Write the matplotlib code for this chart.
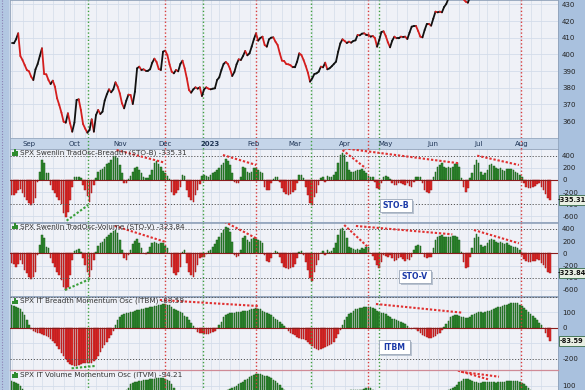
import numpy as np
import pandas as pd
import matplotlib
matplotlib.use("Agg")
import matplotlib.pyplot as plt
from matplotlib.collections import LineCollection
from matplotlib.patches import Rectangle
from matplotlib.lines import Line2D

# ---------------- data ----------------
holidays = ["2022-09-05", "2022-11-24", "2022-12-26", "2023-01-02", "2023-01-16",
            "2023-02-20", "2023-04-07", "2023-05-29", "2023-06-19", "2023-07-04"]
dates = pd.bdate_range("2022-08-22", "2023-08-18")
dates = dates[~dates.isin(pd.to_datetime(holidays))]
pos = np.arange(len(dates)) - 8          # 0 = 1 Sep 2022

price = [
    406.6, 406.6, 409.0, 412.6, 399.0, 396.6, 393.6, 390.6,
    389.8, 386.6, 384.6, 391.0, 394.2, 399.0, 403.6, 388.2, 388.0, 384.6,
    382.2, 384.2, 380.6, 373.6, 369.6, 365.0, 359.6, 359.0, 364.6, 358.6,
    353.6, 359.0, 372.6, 373.0, 366.6, 358.2, 355.4, 353.0, 354.6, 361.0,
    353.6, 363.6, 366.6, 364.2, 365.6, 372.2, 376.0, 379.0, 377.2, 379.0,
    383.2, 380.6, 376.6, 370.6, 367.6, 372.2, 375.8, 375.6, 370.2, 377.6,
    391.6, 392.6, 390.6, 391.0, 390.2, 390.2, 391.0, 395.0, 397.4, 395.4,
    391.2, 390.6, 401.6, 402.2, 399.6, 394.0, 389.6, 388.6, 390.6, 389.8,
    394.2, 396.2, 391.6, 385.6, 378.6, 377.0, 379.0, 380.2, 379.4, 380.2,
    375.0, 379.0, 380.2, 379.4, 379.0, 379.4, 379.6, 384.6, 386.2, 390.6,
    394.2, 395.4, 394.2, 391.2, 387.0, 389.4, 394.0, 397.0, 396.6, 399.0,
    402.0, 399.4, 400.6, 404.6, 409.0, 412.6, 408.2, 409.8, 410.6, 405.6,
    404.6, 409.0, 410.0, 410.2, 407.6, 405.6, 400.6, 396.2, 396.0, 394.2,
    394.0, 393.4, 392.2, 392.2, 395.6, 400.6, 399.6, 396.6, 393.0, 389.0,
    383.6, 385.6, 388.2, 388.6, 389.6, 392.6, 392.2, 395.0, 391.0, 391.6,
    392.8, 394.2, 395.6, 401.6, 406.6, 409.0, 408.0, 406.8, 407.6, 407.0,
    408.0, 408.4, 411.6, 411.4, 412.4, 412.6, 411.8, 411.8, 410.6, 411.0,
    409.8, 404.6, 408.6, 413.4, 413.8, 411.0, 407.2, 404.2, 408.2, 410.6,
    409.6, 409.6, 410.6, 410.4, 410.6, 409.2, 413.0, 416.6, 417.0, 417.0,
    414.0, 410.6, 410.2, 414.6, 418.2, 418.2, 417.2, 421.4, 425.6, 425.2,
    425.6, 425.2, 428.4, 430.2, 433.5, 436.5, 441.0, 438.5, 437.0, 435.5,
    435.0, 433.0, 431.6, 431.0, 434.5, 437.0, 440.0, 443.0, 443.5, 443.0,
    440.0, 439.0, 438.5, 443.0, 445.5, 447.5, 448.5, 449.0, 451.5, 453.0,
    454.5, 452.0, 454.5, 452.0, 455.5, 455.0, 457.0, 456.0, 450.0, 449.0,
    448.0, 446.0, 450.0, 447.5, 446.0, 445.0, 448.0, 442.0, 439.5, 436.5,
    436.0, 437.0,
]

sto_b = [
    -247, -247, -219, -164, -153, -219, -285, -329,
    -384, -411, -384, -301, -27, 137, 329, 274, 110, 110,
    -82, -164, -219, -285, -329, -395, -548, -603, -520, -329,
    -110, 44, 44, 44, 27, -82, -164, -263, -356, -219,
    -82, 27, 137, 164, 175, 219, 263, 285, 329, 395,
    395, 356, 247, 110, -44, -55, 11, 66, 137, 192,
    219, 164, 110, 55, 27, 27, 82, 164, 274, 318,
    263, 219, 153, 110, 66, 11, -192, -247, -219, -164,
    -110, 82, 66, -164, -274, -329, -356, -250, -160, -60,
    66, 82, 66, 55, 82, 110, 137, 164, 192, 247,
    285, 340, 318, 247, 110, -27, -55, -44, 44, 208,
    192, 137, 121, 137, 192, 192, 164, 137, 110, -110,
    -164, -164, -55, 11, 55, 44, -27, -137, -192, -230,
    -247, -230, -192, -164, -55, 82, 82, 27, -110, -247,
    -384, -411, -274, -219, -82, 27, 55, -27, 66, 44,
    55, 82, 137, 274, 411, 449, 411, 301, 164, 137,
    137, 153, 164, 164, 175, 153, 110, 66, 44, 44,
    -27, -137, -153, -55, 44, 66, 55, 11, -55, -82,
    -82, -55, -55, -66, -82, -55, -99, -110, -27, 44,
    55, 55, -55, -164, -192, -208, -164, 55, 137, 219,
    247, 274, 219, 192, 208, 192, 219, 263, 274, 219,
    27, -110, -192, -137, 27, 110, 247, 329, 285, 137,
    82, 110, 164, 247, 263, 230, 192, 175, 192, 164,
    153, 175, 186, 175, 164, 137, 110, 82, 44, -55,
    -110, -137, -137, -121, -99, -66, -55, -110, -164, -230,
    -301, -335.31,
]

sto_v = [
    -164, -175, -218, -175, -109, -175, -273, -328,
    -382, -426, -382, -300, -27, 137, 300, 246, 109, 82,
    -82, -164, -218, -300, -355, -437, -546, -601, -546, -355,
    -109, 38, 55, 66, 27, -82, -191, -300, -382, -273,
    -109, 27, 120, 164, 191, 229, 273, 300, 339, 371,
    382, 339, 218, 55, -82, -109, -27, 55, 153, 207,
    229, 164, 82, 11, -11, 27, 109, 164, 191, 175,
    153, 164, 175, 120, 82, 11, -218, -328, -355, -300,
    -218, 27, 55, -164, -300, -355, -382, -300, -191, -82,
    -66, -55, -11, 44, 55, 98, 153, 218, 273, 328,
    382, 426, 410, 355, 191, -27, -66, -44, 55, 246,
    284, 218, 191, 229, 246, 229, 218, 207, 164, -27,
    -120, -137, -82, 11, 38, 27, -55, -164, -218, -246,
    -262, -246, -218, -175, -82, 27, 44, -27, -137, -273,
    -410, -448, -300, -191, -109, 11, 44, -27, 55, 27,
    38, 82, 164, 300, 393, 410, 371, 246, 109, 82,
    66, 55, 66, 55, 82, 66, 98, 109, 11, -44,
    -109, -191, -246, -137, -27, -44, -55, -27, -82, -120,
    -109, -82, -66, -98, -120, -98, -109, -55, 55, 120,
    137, 120, 11, -55, -82, -66, -55, 82, 218, 273,
    284, 300, 273, 262, 273, 262, 284, 284, 273, 218,
    27, -137, -246, -218, -55, 82, 246, 311, 273, 137,
    98, 120, 164, 218, 229, 218, 191, 175, 191, 164,
    153, 164, 137, 120, 109, 98, 82, 55, -27, -98,
    -120, -137, -137, -120, -131, -98, -109, -153, -191, -246,
    -300, -323.84,
]

itbm = [
    146, 140, 135, 129, 123, 103, 82, 49,
    17, -11, -19, -26, -32, -37, -41, -47, -54, -62,
    -71, -84, -101, -118, -140, -161, -183, -204, -221, -234,
    -243, -247, -247, -241, -234, -230, -230, -226, -230, -226,
    -217, -204, -183, -157, -133, -112, -90, -69, -47, -19,
    17, 49, 71, 82, 88, 92, 97, 101, 103, 110,
    114, 114, 118, 123, 125, 127, 131, 135, 140, 140,
    144, 148, 153, 153, 148, 144, 131, 123, 114, 105,
    101, 92, 75, 67, 49, 32, 11, -11, -26, -37,
    -37, -41, -41, -41, -37, -28, -19, -4, 17, 39,
    67, 82, 88, 92, 92, 97, 101, 103, 103, 105,
    110, 110, 114, 118, 123, 125, 123, 118, 110, 103,
    97, 88, 80, 71, 58, 49, 37, 24, 11, -4,
    -19, -32, -43, -49, -58, -67, -71, -75, -80, -92,
    -105, -118, -131, -138, -144, -140, -133, -127, -118, -112,
    -105, -90, -69, -41, -15, 17, 49, 71, 88, 97,
    110, 118, 123, 125, 127, 131, 135, 135, 131, 127,
    118, 110, 101, 97, 92, 86, 75, 67, 58, 54,
    49, 45, 39, 32, 24, 11, -2, -6, -4, -11,
    -19, -32, -45, -54, -62, -69, -69, -62, -54, -41,
    -32, -15, 2, 24, 45, 67, 75, 82, 80, 75,
    71, 67, 62, 62, 71, 82, 88, 97, 103, 101,
    97, 99, 105, 110, 114, 123, 127, 131, 135, 140,
    144, 148, 153, 157, 161, 161, 157, 148, 140, 127,
    114, 101, 88, 75, 62, 49, 32, 15, -4, -37,
    -62, -83.59,
]

itvm = [
    130, 126, 120, 110, 98, 82, 62, 42,
    22, 2, -15, -28, -40, -50, -60, -70, -80, -92,
    -105, -120, -135, -150, -165, -180, -195, -210, -225, -235,
    -240, -242, -240, -236, -232, -228, -225, -222, -218, -212,
    -204, -192, -176, -158, -138, -116, -92, -68, -44, -20,
    4, 25, 42, 55, 66, 76, 90, 110, 120, 125,
    128, 130, 132, 135, 138, 140, 142, 145, 145, 148,
    150, 150, 148, 145, 140, 130, 110, 85, 62, 45,
    32, 24, 14, 4, -8, -20, -30, -38, -44, -46,
    -44, -40, -34, -26, -16, -6, 6, 18, 30, 42,
    54, 64, 76, 82, 86, 92, 102, 112, 120, 128,
    136, 146, 155, 162, 168, 172, 175, 175, 170, 165,
    160, 155, 150, 140, 130, 118, 104, 90, 76, 62,
    46, 30, 14, -2, -18, -32, -44, -54, -64, -76,
    -90, -102, -112, -118, -120, -116, -108, -96, -82, -66,
    -48, -28, -8, 12, 30, 46, 58, 66, 70, 72,
    72, 73, 74, 75, 76, 80, 86, 88, 85, 78,
    66, 52, 40, 30, 22, 16, 10, 4, -2, -8,
    -14, -20, -26, -32, -38, -46, -54, -62, -70, -76,
    -80, -82, -80, -76, -70, -60, -48, -34, -18, -2,
    14, 30, 46, 60, 72, 80, 88, 94, 104, 122,
    132, 142, 146, 142, 136, 130, 126, 122, 119, 120,
    122, 125, 126, 125, 124, 122, 120, 122, 124, 126,
    128, 130, 131, 132, 133, 132, 130, 128, 120, 110,
    100, 90, 76, 62, 48, 34, 20, 4, -16, -40,
    -66, -94.21,
]

month_labels = ["Sep", "Oct", "Nov", "Dec", "2023", "Feb", "Mar", "Apr", "May", "Jun", "Jul", "Aug"]
green_signals = [27.4, 80.4, 130.6, 161.7]
red_signals = [62.8, 104.8, 156.6, 227.5]

# annotation trend lines: (x0, y0, x1, y1, colour)
sto_b_lines = [(17.4, -669, 27.4, -411, "g"), (40.5, 493, 62.8, 285, "r"),
               (89.7, 411, 105.1, 247, "r"), (145.0, 493, 155.8, 192, "r"),
               (145.8, 521, 198.9, 275, "r"), (207.3, 400, 226.6, 247, "r")]
sto_v_lines = [(16.6, -602, 28.9, -410, "g"), (39.7, 448, 62.8, 190, "r"),
               (90.4, 518, 105.1, 246, "r"), (145.8, 464, 156.6, 108, "r"),
               (151.2, 448, 195.8, 311, "r"), (205.8, 382, 226.6, 164, "r")]
itbm_lines = [(19.7, -262, 30.5, -247, "g"), (60.5, 179, 105.8, 140, "r"),
              (160.5, 153, 200.4, 97, "r")]
itvm_lines = [(198.4, 196, 212.3, 142, "r"), (199.8, 189, 217.4, 158, "r")]

# ---------------- layout ----------------
W, H = 585, 390
fig = plt.figure(figsize=(W / 100, H / 100), dpi=100)
fig.patch.set_facecolor("#c5d5e9")

PX_PER_DAY = 2.162
X0_PX = 29.0          # pixel of index 0
XL = 10.0
XR = 558.0
xlim = ((XL - X0_PX) / PX_PER_DAY, (XR - X0_PX) / PX_PER_DAY)

BG = "#eff1f7"
GRID = "#d3dcea"
GREEN = "#2f8c2f"
GREEN_E = "#1b5a1b"
RED = "#e22a2a"
RED_E = "#a01616"
SIG_G = "#3f9f3f"
SIG_R = "#d83c3c"


def px_axes(y0, y1):
    return fig.add_axes([XL / W, 1 - y1 / H, (XR - XL) / W, (y1 - y0) / H])


# background strips (right axis area, left strip)
fig.add_artist(Rectangle((XR / W, 0), 1 - XR / W, 1, transform=fig.transFigure,
                         facecolor="#a9c1de", edgecolor="none", zorder=-5))
fig.add_artist(Rectangle((0, 0), 8.5 / W, 1, transform=fig.transFigure,
                         facecolor="#b2c7e2", edgecolor="none", zorder=-5))
fig.add_artist(Line2D([2 / W, 2 / W], [0, 1], transform=fig.transFigure,
                      color="#8a80b4", lw=0.8, ls=(0, (1, 1.5)), zorder=-4))

week_first = pd.Series(pos, index=dates).groupby(dates.to_period("W")).first().values
month_first = pd.Series(pos, index=dates).groupby(dates.to_period("M")).first().values[1:]


def style_axes(ax, ylim, yticks, hgrid):
    ax.set_facecolor(BG)
    ax.set_xlim(*xlim)
    ax.set_ylim(*ylim)
    ax.set_xticks([])
    ax.yaxis.tick_right()
    ax.set_yticks(yticks)
    ax.set_yticklabels([f"{t:g}" for t in yticks])
    ax.tick_params(axis="y", length=0, pad=3, labelsize=5, labelcolor="#222222")
    for s in ax.spines.values():
        s.set_color("#8fa0b8")
        s.set_linewidth(0.6)
    for w in week_first:
        ax.axvline(w, color=GRID, lw=0.5, zorder=0)
    for h in hgrid:
        ax.axhline(h, color=GRID, lw=0.6, zorder=0)
    for g in green_signals:
        ax.axvline(g, color=SIG_G, lw=1.0, ls=(0, (1, 1.6)), zorder=4)
    for r in red_signals:
        ax.axvline(r, color=SIG_R, lw=1.0, ls=(0, (1, 1.6)), zorder=4)


# ---- price panel ----
axp = px_axes(0, 138)
style_axes(axp, (432.6 - 0.6 * 138, 432.6), list(range(360, 431, 10)), range(350, 440, 10))
pr = np.asarray(price, dtype=float)
pts = np.column_stack([pos, pr])
segs = np.stack([pts[:-1], pts[1:]], axis=1)
cols = ["#111111" if pr[i + 1] >= pr[i] else "#d41e1e" for i in range(len(pr) - 1)]
axp.add_collection(LineCollection(segs, colors=cols, linewidths=1.3, zorder=5,
                                  capstyle="round", joinstyle="round"))

# ---- date strip ----
axd = px_axes(138, 148.5)
axd.set_facecolor("#c5d5e9")
axd.set_xlim(*xlim)
axd.set_ylim(0, 1)
axd.set_xticks([])
axd.set_yticks([])
for s in axd.spines.values():
    s.set_color("#8fa0b8")
    s.set_linewidth(0.5)
for g in green_signals:
    axd.axvline(g, color=SIG_G, lw=1.0, ls=(0, (1, 1.6)))
for r in red_signals:
    axd.axvline(r, color=SIG_R, lw=1.0, ls=(0, (1, 1.6)))
for m, lab in zip(month_first, month_labels):
    axd.text(m, 0.45, lab, ha="center", va="center", fontsize=5, color="#1f3556",
             fontweight="bold" if lab == "2023" else "normal")


def osc_panel(y0, y1, vals, ylim, yticks, hgrid, dotted, lines):
    ax = px_axes(y0, y1)
    style_axes(ax, ylim, yticks, hgrid)
    v = np.asarray(vals, dtype=float)
    ax.bar(pos, v, width=0.72, color=np.where(v >= 0, GREEN, RED),
           edgecolor=np.where(v >= 0, GREEN_E, RED_E), linewidth=0.35, zorder=2)
    ax.axhline(0, color="#8a1c1c", lw=0.8, zorder=3)
    for d in dotted:
        ax.axhline(d, color="#555555", lw=0.7, ls=(0, (1.2, 1.8)), zorder=3)
    for (xa, ya, xb, yb, c) in lines:
        ax.plot([xa, xb], [ya, yb], color="#e03030" if c == "r" else "#3aa03a",
                lw=1.5, ls=(0, (1.1, 0.9)), zorder=6, solid_capstyle="butt")
    return ax


axb = osc_panel(148.5, 221.7, sto_b, ((180 - 221.7) / 0.0608, (180 - 148.5) / 0.0608),
                [400, 200, 0, -200, -400, -600], [200, -200, -600], [400, -400], sto_b_lines)
axv = osc_panel(222.5, 296.0, sto_v, ((253.3 - 296.0) / 0.061, (253.3 - 222.5) / 0.061),
                [400, 200, 0, -200, -400, -600], [200, -200, -600], [400, -400], sto_v_lines)
axm = osc_panel(296.5, 370.0, itbm, ((327.7 - 370.0) / 0.155, (327.7 - 296.5) / 0.155),
                [100, 0, -200], [100, -100], [200, -200], itbm_lines)
axt = osc_panel(370.5, 450.0, itvm, ((402 - 450.0) / 0.16, (402 - 370.5) / 0.16),
                [100, 0, -200], [100, -100], [-200], itvm_lines)
fig.add_artist(Line2D([XL / W, XR / W], [1 - 370.2 / H] * 2, transform=fig.transFigure,
                      color="#cf8a96", lw=0.9, zorder=6))


def fxy(x, y):
    return x / W, 1 - y / H


# panel titles with small bar icons
titles = [(152.5, "SPX Swenlin TradOsc-Breadth (STO-B) -335.31"),
          (226.3, "SPX Swenlin TradOsc-Volume (STO-V) -323.84"),
          (301.0, "SPX IT Breadth Momentum Osc (ITBM) -83.59"),
          (374.5, "SPX IT Volume Momentum Osc (ITVM) -94.21")]
for yc, t in titles:
    for k, hgt in enumerate([3.5, 6.0, 4.5]):
        bx, by = fxy(12 + k * 2.1, yc + 3)
        fig.add_artist(Rectangle((bx, by), 1.6 / W, hgt / H, transform=fig.transFigure,
                                 facecolor="#2f8c2f", edgecolor="none", zorder=7))
    tx, ty = fxy(20, yc)
    fig.text(tx, ty, t, ha="left", va="center", fontsize=5.2, color="#333333", zorder=7)

# current value tags on right axis
tags = [(200.4, "-335.31"), (273.0, "-323.84"), (340.7, "-83.59")]
for yc, t in tags:
    bx, by = fxy(558.5, yc + 5)
    fig.add_artist(Rectangle((bx, by), 26 / W, 10 / H, transform=fig.transFigure,
                             facecolor="#e8efe3", edgecolor="#4a7a5c", lw=0.7, zorder=8))
    tx, ty = fxy(571.5, yc)
    fig.text(tx, ty, t, ha="center", va="center", fontsize=4.8, color="#111111",
             fontweight="bold", zorder=9)

# panel name boxes
boxes = [(380, 199, 412, 212, "STO-B"), (399, 270, 431, 283, "STO-V"), (379, 340, 410, 354, "ITBM")]
for x0, y0, x1, y1, t in boxes:
    sx, sy = fxy(x0 + 1.5, y1 + 1.5)
    fig.add_artist(Rectangle((sx, sy), (x1 - x0) / W, (y1 - y0) / H, transform=fig.transFigure,
                             facecolor="#b8c2d0", edgecolor="none", zorder=8))
    bx, by = fxy(x0, y1)
    fig.add_artist(Rectangle((bx, by), (x1 - x0) / W, (y1 - y0) / H, transform=fig.transFigure,
                             facecolor="white", edgecolor="#9aa6b8", lw=0.6, zorder=9))
    tx, ty = fxy((x0 + x1) / 2, (y0 + y1) / 2)
    fig.text(tx, ty, t, ha="center", va="center", fontsize=5.6, color="#1c3aa8",
             fontweight="bold", zorder=10)

fig.savefig("out.png", dpi=100, facecolor=fig.get_facecolor())
